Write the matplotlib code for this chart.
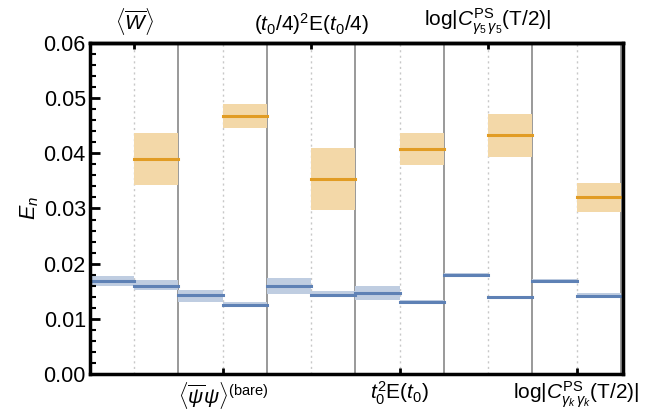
import numpy as np
import matplotlib.pyplot as plt
from matplotlib.ticker import MultipleLocator

plt.rcParams['font.family'] = ['Liberation Sans', 'DejaVu Sans']
plt.rcParams['mathtext.fontset'] = 'custom'
plt.rcParams['mathtext.rm'] = 'Liberation Sans'
plt.rcParams['mathtext.it'] = 'Liberation Sans:italic'

# observables (top labels at columns 1,5,9, bottom at 3,7,11)
top_labels = [r'$\langle\overline{W}\rangle$',
              r'$(t_0/4)^2\mathrm{E}(t_0/4)$',
              r'$\log|C^{\mathrm{PS}}_{\gamma_5\,\gamma_5}(\mathrm{T}/2)|$']
bottom_labels = [r'$\langle\overline{\psi}\psi\rangle^{\mathrm{(bare)}}$',
                 r'$t_0^2\mathrm{E}(t_0)$',
                 r'$\log|C^{\mathrm{PS}}_{\gamma_k\,\gamma_k}(\mathrm{T}/2)|$']

# ground state, one value per column (12 columns)
e0 = [0.0169, 0.0160, 0.0144, 0.0126, 0.0160, 0.0144,
      0.0147, 0.0131, 0.0180, 0.0140, 0.0169, 0.0142]
e0_lo = [0.0160, 0.0152, 0.0131, 0.0121, 0.0145, 0.0140,
         0.0135, 0.0128, 0.0176, 0.0139, 0.0165, 0.0139]
e0_hi = [0.0177, 0.0170, 0.0153, 0.0131, 0.0174, 0.0150,
         0.0159, 0.0134, 0.0184, 0.0141, 0.0173, 0.0146]

# first excited state, only in odd columns
e1_cols = [1, 3, 5, 7, 9, 11]
e1 = [0.0390, 0.0468, 0.0353, 0.0408, 0.0434, 0.0320]
e1_lo = [0.0343, 0.0445, 0.0297, 0.0378, 0.0394, 0.0294]
e1_hi = [0.0436, 0.0489, 0.0409, 0.0436, 0.0471, 0.0347]

blue = '#5e81b5'
blue_band = '#bfcde1'
orange = '#e19c24'
orange_band = '#f3d8a8'

fig, ax = plt.subplots(figsize=(6.47, 4.17), dpi=100)
fig.subplots_adjust(left=0.139, right=0.963, top=0.897, bottom=0.103)

# column separators
for i in range(1, 13):
    if i % 2 == 1:
        ax.axvline(i, color='#c8c8c8', lw=1, ls=(0, (1.5, 2.5)), zorder=0)
    else:
        ax.axvline(i, color='#888888', lw=1.2, zorder=0)

for i in range(12):
    ax.fill_between([i, i + 1], e0_lo[i], e0_hi[i], color=blue_band, lw=0, zorder=1)
    ax.plot([i, i + 1], [e0[i], e0[i]], color=blue, lw=2.2,
            solid_capstyle='projecting', zorder=2)

for c, v, lo, hi in zip(e1_cols, e1, e1_lo, e1_hi):
    ax.fill_between([c, c + 1], lo, hi, color=orange_band, lw=0, zorder=1)
    ax.plot([c, c + 1], [v, v], color=orange, lw=2.2,
            solid_capstyle='projecting', zorder=2)

ax.set_xlim(0, 12.05)
ax.set_ylim(0, 0.06)

ax.yaxis.set_major_locator(MultipleLocator(0.01))
ax.yaxis.set_minor_locator(MultipleLocator(0.002))
ax.yaxis.set_major_formatter(plt.FuncFormatter(lambda v, p: f'{v:.2f}'))
ax.tick_params(axis='y', which='major', direction='in', length=7, width=2,
               labelsize=15.5, right=False, pad=3)
ax.tick_params(axis='y', which='minor', direction='in', length=4, width=1.5,
               right=False)
ax.set_ylabel(r'$E_n$', fontsize=15.5, labelpad=2)

ax.set_xticks([3, 7, 11])
ax.set_xticklabels(bottom_labels, fontsize=15)
ax.tick_params(axis='x', direction='in', length=4, width=2, pad=4)

sec = ax.secondary_xaxis('top')
sec.set_xticks([1, 5, 9])
sec.set_xticklabels(top_labels, fontsize=15)
sec.tick_params(direction='in', length=4, width=2, pad=4)
sec.spines['top'].set_linewidth(2.5)

for s in ['left', 'bottom', 'top', 'right']:
    ax.spines[s].set_linewidth(2.5)

fig.savefig('out.png', dpi=100)
